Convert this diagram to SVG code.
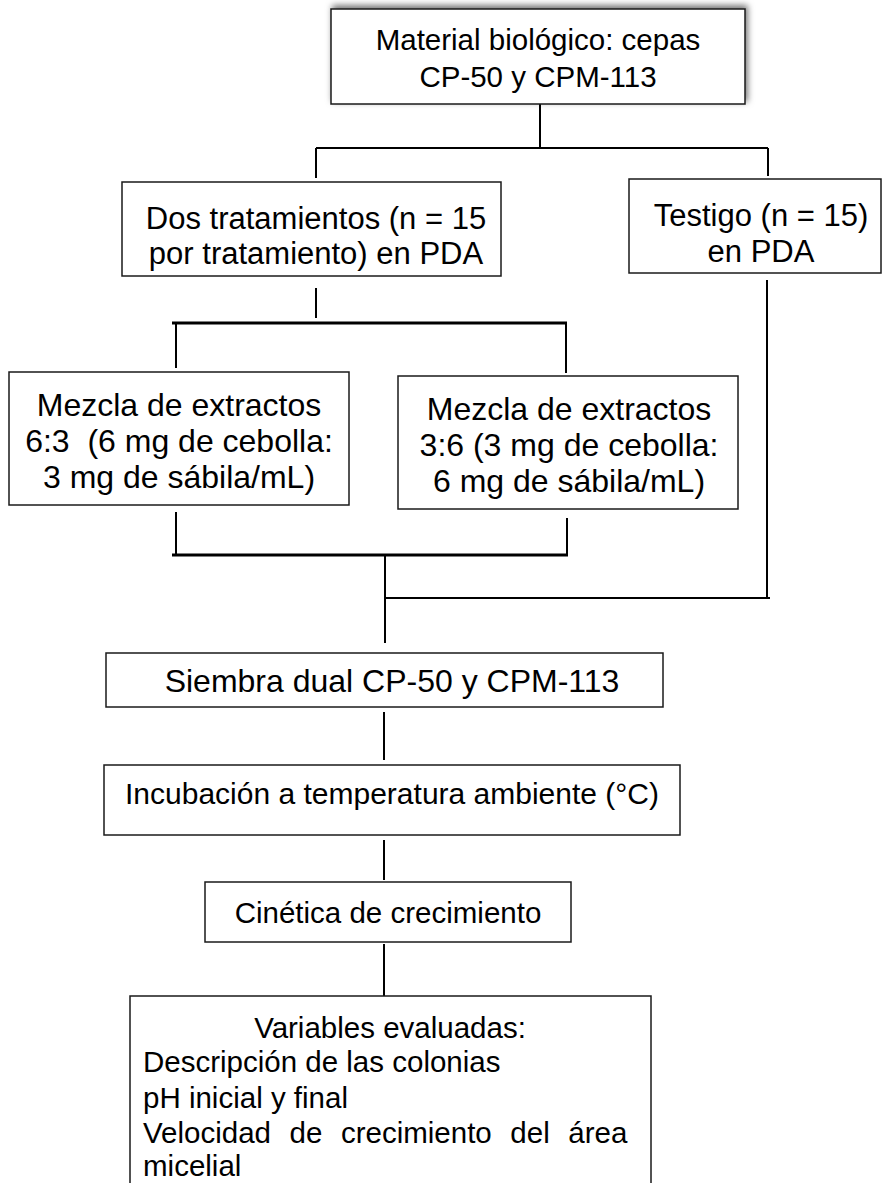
<svg xmlns="http://www.w3.org/2000/svg" width="883" height="1183" viewBox="0 0 883 1183">
<defs>
<style>
.box{fill:#fff;stroke:#1a1a1a;stroke-width:1.5}
.t{font-family:"Liberation Sans",Arial,sans-serif;font-size:29.5px;fill:#000}
.m{font-size:31px}
.l{font-size:32px}
.c{text-anchor:middle}
.ln{stroke:#000;stroke-width:2;fill:none}
.bar{stroke:#000;stroke-width:3;fill:none}
</style>
<filter id="sh" x="-10%" y="-30%" width="120%" height="160%">
<feDropShadow dx="2" dy="-3" stdDeviation="3" flood-color="#000" flood-opacity="0.55"/>
</filter>
</defs>
<rect width="883" height="1183" fill="#fff"/>
<g id="connectors">
<path class="ln" d="M540,104 V148 M316,148 H768 M316,148 V178 M768,148 V176"/>
<path class="ln" d="M316,288 V318 M176,323 V368 M566,323 V373"/>
<path class="bar" d="M172,323 H567"/>
<path class="ln" d="M176,512 V555 M567,518 V555"/>
<path class="bar" d="M172,555 H568"/>
<path class="ln" d="M385,555 V643 M767,280 V598 M385,598 H770"/>
<path class="ln" d="M384,712 V760 M384,840 V880 M384,944 V996"/>
</g>
<g id="n1">
<rect class="box" x="331" y="9" width="414" height="95" filter="url(#sh)"/>
<text class="t c" x="538" y="50">Material biológico: cepas</text>
<text class="t c" x="538" y="87">CP-50 y CPM-113</text>
</g>
<g id="n2">
<rect class="box" x="122" y="182" width="379" height="94"/>
<text class="t m c" x="316" y="229">Dos tratamientos (n = 15</text>
<text class="t m c" x="316" y="264">por tratamiento) en PDA</text>
</g>
<g id="n3">
<rect class="box" x="629" y="179" width="252" height="94"/>
<text class="t m c" x="761" y="226">Testigo (n = 15)</text>
<text class="t m c" x="761" y="262">en PDA</text>
</g>
<g id="n4">
<rect class="box" x="9" y="372" width="340" height="133"/>
<text class="t l c" x="179" y="416">Mezcla de extractos</text>
<text class="t l c" x="179" y="452" xml:space="preserve">6:3  (6 mg de cebolla:</text>
<text class="t l c" x="179" y="488">3 mg de sábila/mL)</text>
</g>
<g id="n5">
<rect class="box" x="398" y="376" width="340" height="133"/>
<text class="t l c" x="569" y="420">Mezcla de extractos</text>
<text class="t l c" x="569" y="456">3:6 (3 mg de cebolla:</text>
<text class="t l c" x="569" y="492">6 mg de sábila/mL)</text>
</g>
<g id="n6">
<rect class="box" x="106" y="653" width="557" height="54"/>
<text class="t l c" x="392" y="692">Siembra dual CP-50 y CPM-113</text>
</g>
<g id="n7">
<rect class="box" x="104" y="765" width="576" height="70"/>
<text class="t c" x="392" y="804" style="font-size:30px">Incubación a temperatura ambiente (°C)</text>
</g>
<g id="n8">
<rect class="box" x="205" y="882" width="366" height="60"/>
<text class="t c" x="388" y="923">Cinética de crecimiento</text>
</g>
<g id="n9">
<rect class="box" x="130" y="996" width="521" height="200"/>
<text class="t c" x="390" y="1038">Variables evaluadas:</text>
<text class="t" x="143" y="1072">Descripción de las colonias</text>
<text class="t" x="143" y="1108">pH inicial y final</text>
<text class="t" x="143" y="1143" word-spacing="10.4">Velocidad de crecimiento del área</text>
<text class="t" x="143" y="1176">micelial</text>
</g>
</svg>
